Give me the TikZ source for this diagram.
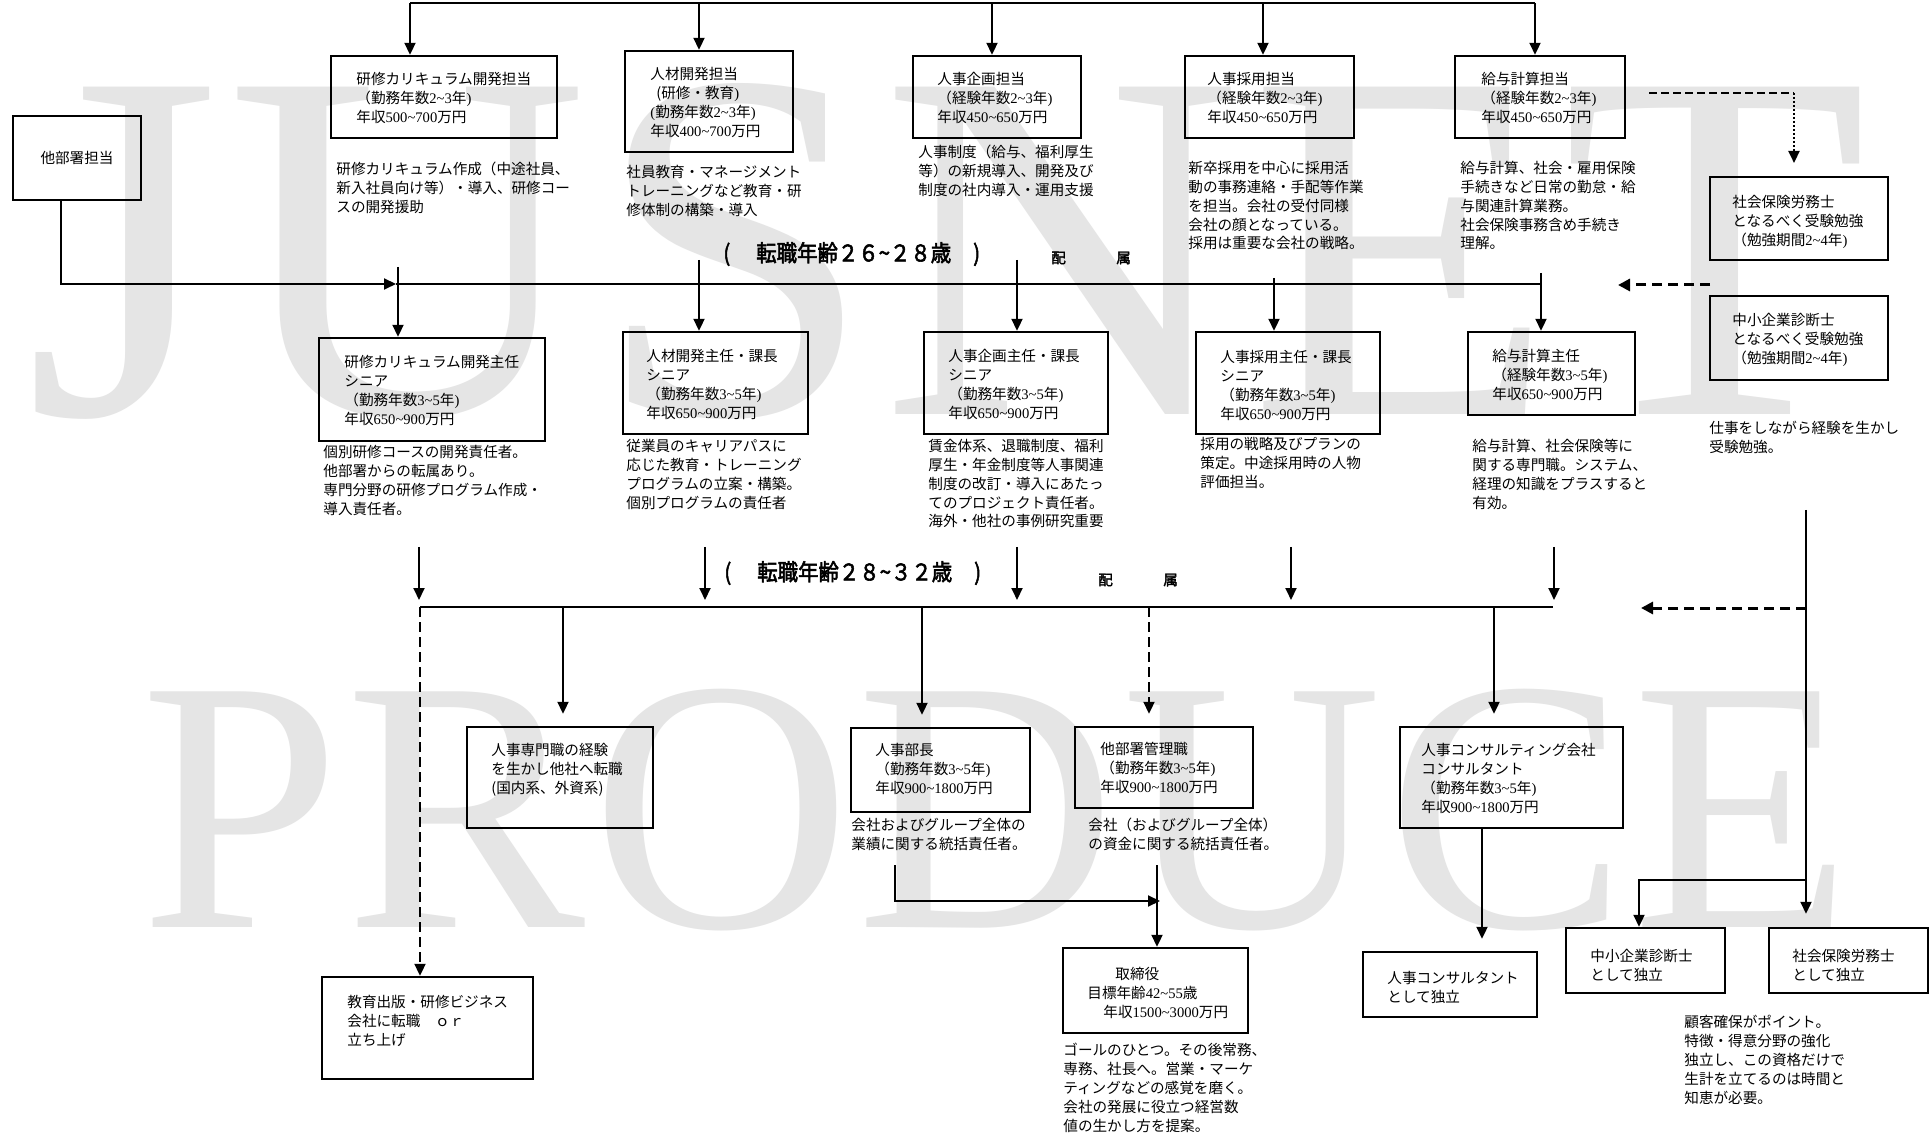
\documentclass[tikz,border=0pt]{standalone}
\usepackage{fontspec}
\setmainfont[AutoFakeBold=2.5]{Noto Sans CJK JP}
\newfontfamily\tms{Liberation Serif}
\newfontfamily\wmf[LetterSpace=1.5]{Liberation Serif}
\usetikzlibrary{arrows.meta,fit,calc}
\newcommand\tld{\textasciitilde}
\newcommand\nm[1]{{\tms #1}}
\newcommand\kin[1]{（勤務年数\nm{#1}年\nm{)}}
\newcommand\kei[1]{（経験年数\nm{#1}年\nm{)}}
\newcommand\nen[2]{年収\nm{#1\tld#2}万円}
\begin{document}
\begin{tikzpicture}[x=0.5pt,y=-0.5pt,
  bx/.style={draw, line width=1.2pt, inner sep=0pt},
  txt/.style={anchor=north west, inner sep=0pt, align=left, font=\fontsize{7.3}{9.4}\selectfont},
  ttl/.style={anchor=west, inner sep=0pt, font=\fontsize{10.2}{12}\selectfont\bfseries},
  hz/.style={anchor=west, inner sep=0pt, font=\fontsize{7.2}{8}\selectfont\bfseries},
  ln/.style={line width=1pt},
  arr/.style={line width=1pt, -{Triangle[length=6pt,width=5.5pt]}},
  darr/.style={line width=1pt, dash pattern=on 5pt off 2.5pt, -{Triangle[length=6pt,width=5.5pt]}},
  bdarr/.style={line width=1.5pt, dash pattern=on 5pt off 3pt, -{Triangle[length=6pt,width=6pt]}},
  wm/.style={inner sep=0pt, anchor=base west, text=black!10}]
\fill[white] (0,0) rectangle (1932,1133);
\useasboundingbox (0,0) rectangle (1932,1133);
% watermark
\node[wm, font=\wmf\fontsize{250}{250}\selectfont] (wm1) at (25,415) {JUSNET};
\node[wm, font=\wmf\fontsize{180}{180}\selectfont] (wm2) at (140,927) {PRODUCE};
% boxes
\node[bx, fit={(13,116) (141,200)}] (b0) {};
\node[bx, fit={(331,56) (557,138)}] (b1) {};
\node[bx, fit={(625,51) (793,152)}] (b2) {};
\node[bx, fit={(913,56) (1081,138)}] (b3) {};
\node[bx, fit={(1185,56) (1354,138)}] (b4) {};
\node[bx, fit={(1455,56) (1625,138)}] (b5) {};
\node[bx, fit={(319,338) (545,441)}] (c1) {};
\node[bx, fit={(623,332) (808,434)}] (c2) {};
\node[bx, fit={(924,332) (1108,434)}] (c3) {};
\node[bx, fit={(1196,332) (1380,434)}] (c4) {};
\node[bx, fit={(1468,332) (1635,415)}] (c5) {};
\node[bx, fit={(1710,177) (1888,260)}] (r1) {};
\node[bx, fit={(1710,296) (1888,380)}] (r2) {};
\node[bx, fit={(467,727) (653,828)}] (e1) {};
\node[bx, fit={(851,728) (1030,812)}] (e2) {};
\node[bx, fit={(1075,727) (1253,808)}] (e3) {};
\node[bx, fit={(1400,727) (1623,828)}] (e4) {};
\node[bx, fit={(322,977) (533,1079)}] (f1) {};
\node[bx, fit={(1063,948) (1248,1033)}] (f2) {};
\node[bx, fit={(1363,952) (1537,1017)}] (f3) {};
\node[bx, fit={(1566,928) (1725,993)}] (f4) {};
\node[bx, fit={(1769,928) (1928,993)}] (f5) {};
% texts in boxes
\node[txt, anchor=center] (tb0) at (b0.center) {他部署担当};
\node[txt] (t1) at (356,72) {研修カリキュラム開発担当\\\kin{2\tld3}\\\nen{500}{700}};
\node[txt] (t2) at (650,67) {人材開発担当\\\hspace*{3pt}(研修・教育\nm{)}\\\nm{(}勤務年数\nm{2\tld3}年\nm{)}\\\nen{400}{700}};
\node[txt] (t3) at (937,72) {人事企画担当\\\kei{2\tld3}\\\nen{450}{650}};
\node[txt] (t4) at (1207,72) {人事採用担当\\\kei{2\tld3}\\\nen{450}{650}};
\node[txt] (t5) at (1481,72) {給与計算担当\\\kei{2\tld3}\\\nen{450}{650}};
\node[txt] (u1) at (344,355) {研修カリキュラム開発主任\\シニア\\\kin{3\tld5}\\\nen{650}{900}};
\node[txt] (u2) at (646,349) {人材開発主任・課長\\シニア\\\kin{3\tld5}\\\nen{650}{900}};
\node[txt] (u3) at (948,349) {人事企画主任・課長\\シニア\\\kin{3\tld5}\\\nen{650}{900}};
\node[txt] (u4) at (1220,350) {人事採用主任・課長\\シニア\\\kin{3\tld5}\\\nen{650}{900}};
\node[txt] (u5) at (1492,349) {給与計算主任\\\kei{3\tld5}\\\nen{650}{900}};
\node[txt] (s1) at (1732,195) {社会保険労務士\\となるべく受験勉強\\（勉強期間\nm{2\tld4}年\nm{)}};
\node[txt] (s2) at (1732,313) {中小企業診断士\\となるべく受験勉強\\（勉強期間\nm{2\tld4}年\nm{)}};
\node[txt] (w1) at (491,743) {人事専門職の経験\\を生かし他社へ転職\\(国内系、外資系)};
\node[txt] (w2) at (875,743) {人事部長\\\kin{3\tld5}\\\nen{900}{1800}};
\node[txt] (w3) at (1100,742) {他部署管理職\\\kin{3\tld5}\\\nen{900}{1800}};
\node[txt] (w4) at (1421,743) {人事コンサルティング会社\\コンサルタント\\\kin{3\tld5}\\\nen{900}{1800}};
\node[txt] (x1) at (347,995) {教育出版・研修ビジネス\\会社に転職　ｏｒ\\立ち上げ};
\node[txt] (x2) at (1087,967) {\hspace*{14pt}取締役\\目標年齢\nm{42\tld55}歳\\\hspace*{8pt}\nen{1500}{3000}};
\node[txt] (x3) at (1387,971) {人事コンサルタント\\として独立};
\node[txt] (x4) at (1590,949) {中小企業診断士\\として独立};
\node[txt] (x5) at (1792,949) {社会保険労務士\\として独立};
% descriptions
\node[txt] (d1) at (336,162) {研修カリキュラム作成（中途社員、\\新入社員向け等）・導入、研修コー\\スの開発援助};
\node[txt] (d2) at (626,165) {社員教育・マネージメント\\トレーニングなど教育・研\\修体制の構築・導入};
\node[txt] (d3) at (918,145) {人事制度（給与、福利厚生\\等）の新規導入、開発及び\\制度の社内導入・運用支援};
\node[txt] (d4) at (1188,161) {新卒採用を中心に採用活\\動の事務連絡・手配等作業\\を担当。会社の受付同様\\会社の顔となっている。\\採用は重要な会社の戦略。};
\node[txt] (d5) at (1460,161) {給与計算、社会・雇用保険\\手続きなど日常の勤怠・給\\与関連計算業務。\\社会保険事務含め手続き\\理解。};
\node[txt] (g1) at (323,445) {個別研修コースの開発責任者。\\他部署からの転属あり。\\専門分野の研修プログラム作成・\\導入責任者。};
\node[txt] (g2) at (626,439) {従業員のキャリアパスに\\応じた教育・トレーニング\\プログラムの立案・構築。\\個別プログラムの責任者};
\node[txt] (g3) at (928,439) {賃金体系、退職制度、福利\\厚生・年金制度等人事関連\\制度の改訂・導入にあたっ\\てのプロジェクト責任者。\\海外・他社の事例研究重要};
\node[txt] (g4) at (1200,437) {採用の戦略及びプランの\\策定。中途採用時の人物\\評価担当。};
\node[txt] (g5) at (1472,439) {給与計算、社会保険等に\\関する専門職。システム、\\経理の知識をプラスすると\\有効。};
\node[txt] (s3) at (1709,421) {仕事をしながら経験を生かし\\受験勉強。};
\node[txt] (h2) at (851,818) {会社およびグループ全体の\\業績に関する統括責任者。};
\node[txt] (h3) at (1088,818) {会社（およびグループ全体）\\の資金に関する統括責任者。};
\node[txt] (k2) at (1063,1043) {ゴールのひとつ。その後常務、\\専務、社長へ。営業・マーケ\\ティングなどの感覚を磨く。\\会社の発展に役立つ経営数\\値の生かし方を提案。};
\node[txt] (k5) at (1684,1015) {顧客確保がポイント。\\特徴・得意分野の強化\\独立し、この資格だけで\\生計を立てるのは時間と\\知恵が必要。};
% titles
\node[ttl] (ti1) at (723,254) {\scalebox{1}[1.12]{(\hspace{13pt}転職年齢２６\textasciitilde２８歳\hspace{11pt})}};
\node[hz] (ha1) at (1051,258) {配};
\node[hz] (zo1) at (1116,258) {属};
\node[ttl] (ti2) at (724,573) {\scalebox{1}[1.12]{(\hspace{13pt}転職年齢２８\textasciitilde３２歳\hspace{11pt})}};
\node[hz] (ha2) at (1098,580) {配};
\node[hz] (zo2) at (1163,580) {属};
% top bus
\coordinate (p1) at (410,3);
\coordinate (p2) at (699,3);
\coordinate (p3) at (992,3);
\coordinate (p4) at (1263,3);
\coordinate (p5) at (1535,3);
\draw[ln] (p1) -- (p5);
\draw[arr] (p1) -- (p1 |- b1.north);
\draw[arr] (p2) -- (p2 |- b2.north);
\draw[arr] (p3) -- (p3 |- b3.north);
\draw[arr] (p4) -- (p4 |- b4.north);
\draw[arr] (p5) -- (p5 |- b5.north);
% second bus
\coordinate (o1) at (61,284);
\coordinate (m1) at (396,284);
\coordinate (o2) at (1541,284);
\draw[arr] (b0.south -| o1) |- (m1);
\draw[ln] (m1) -- (o2);
\coordinate (q1) at (398,267);
\coordinate (q2) at (699,260);
\coordinate (q3) at (1017,260);
\coordinate (q4) at (1274,278);
\coordinate (q5) at (1541,273);
\draw[arr] (q1) -- (q1 |- c1.north);
\draw[arr] (q2) -- (q2 |- c2.north);
\draw[arr] (q3) -- (q3 |- c3.north);
\draw[arr] (q4) -- (q4 |- c4.north);
\draw[arr] (q5) -- (q5 |- c5.north);
% top right
\coordinate (y1) at (1649,93);
\coordinate (y2) at (1794,93);
\coordinate (y3) at (1794,163);
\draw[line width=1.2pt, dash pattern=on 4pt off 2pt] (y1) -- (y2);
\draw[line width=1pt, dash pattern=on 1pt off 1pt, -{Triangle[length=6pt,width=5.5pt]}] (y2) -- (y3);
\coordinate (y4) at (1710,285);
\coordinate (y5) at (1618,285);
\draw[bdarr] (y4) -- (y5);
% third level
\coordinate (v1) at (419,547);
\coordinate (v2) at (705,547);
\coordinate (v3) at (1017,547);
\coordinate (v4) at (1291,547);
\coordinate (v5) at (1554,547);
\coordinate (v1e) at (419,600);
\coordinate (v2e) at (705,600);
\coordinate (v3e) at (1017,600);
\coordinate (v4e) at (1291,600);
\coordinate (v5e) at (1554,600);
\draw[arr] (v1) -- (v1e);
\draw[arr] (v2) -- (v2e);
\draw[arr] (v3) -- (v3e);
\draw[arr] (v4) -- (v4e);
\draw[arr] (v5) -- (v5e);
\coordinate (n0) at (420,607);
\coordinate (n9) at (1553,607);
\draw[ln] (n0) -- (n9);
\coordinate (n2) at (563,607);
\coordinate (n3) at (922,607);
\coordinate (n4) at (1149,607);
\coordinate (n5) at (1494,607);
\draw[darr] (n0) -- (n0 |- f1.north);
\draw[arr, shorten >=6pt] (n2) -- (n2 |- e1.north);
\draw[arr, shorten >=6pt] (n3) -- (n3 |- e2.north);
\draw[darr, shorten >=6pt] (n4) -- (n4 |- e3.north);
\draw[arr, shorten >=6pt] (n5) -- (n5 |- e4.north);
% right column
\coordinate (z1) at (1806,510);
\coordinate (z2) at (1806,608);
\coordinate (z3) at (1641,608);
\coordinate (z4) at (1806,880);
\coordinate (z5) at (1639,880);
\draw[arr, shorten >=6.5pt] (z1) -- (z1 |- f5.north);
\draw[bdarr] (z2) -- (z3);
\draw[arr] (z4) -- (z5) -- (z5 |- f4.north);
% consulting
\coordinate (k1) at (1482,828);
\draw[arr, shorten >=6pt] (k1) -- (k1 |- f3.north);
% director
\coordinate (j1) at (895,865);
\coordinate (j2) at (895,901);
\coordinate (j3) at (1160,901);
\coordinate (j4) at (1157,865);
\draw[arr] (j1) -- (j2) -- (j3);
\draw[arr] (j4) -- (j4 |- f2.north);
\end{tikzpicture}
\end{document}
